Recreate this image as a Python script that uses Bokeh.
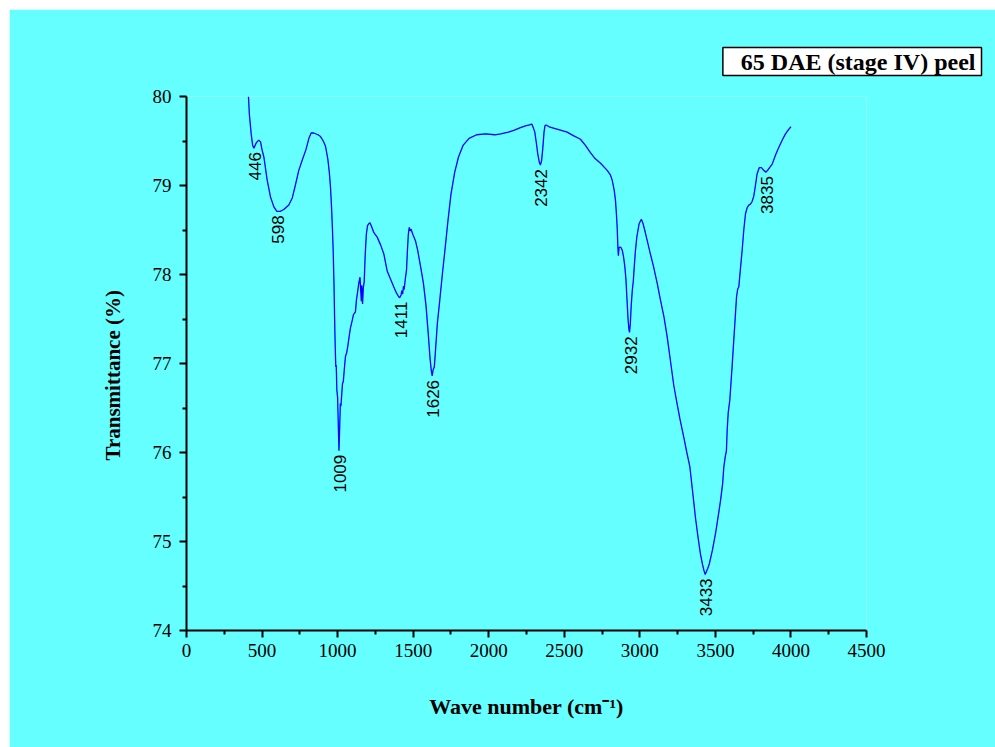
import math
from bokeh.plotting import figure
from bokeh.models import ColumnDataSource, Title, Range1d, FixedTicker
from bokeh.core.properties import value
from bokeh.embed import file_html
from bokeh.resources import INLINE

# FTIR spectrum: wave number (cm-1) vs transmittance (%)
wavenumber = [
    410, 416, 428, 438, 446, 462, 478, 490, 500, 512, 534, 556, 578, 598, 620,
    644, 677, 700, 720, 743, 765, 790, 810, 825, 842, 870, 887, 905, 920, 935,
    945, 953, 960, 966, 971, 976, 980, 984, 988, 991, 995, 1000, 1004, 1009,
    1014, 1018, 1022, 1026, 1032, 1038, 1045, 1052, 1060, 1068, 1076, 1085,
    1096, 1105, 1118, 1125, 1132, 1140, 1148, 1152, 1157, 1160, 1165, 1170,
    1176, 1182, 1190, 1198, 1206, 1214, 1222, 1240, 1262, 1285, 1306, 1328,
    1350, 1372, 1390, 1404, 1411, 1420, 1425, 1430, 1436, 1440, 1448, 1456,
    1462, 1468, 1474, 1480, 1486, 1498, 1515, 1530, 1550, 1568, 1585, 1600,
    1612, 1620, 1626, 1632, 1640, 1648, 1660, 1676, 1693, 1710, 1730, 1750,
    1775, 1800, 1830, 1870, 1920, 1980, 2040, 2080, 2130, 2166, 2210, 2243,
    2270, 2285, 2295, 2305, 2315, 2325, 2335, 2342, 2350, 2358, 2366, 2372,
    2380, 2400, 2440, 2480, 2519, 2560, 2607, 2640, 2673, 2700, 2740, 2784,
    2805, 2817, 2830, 2839, 2845, 2850, 2855, 2858, 2862, 2868, 2876, 2884,
    2892, 2900, 2908, 2915, 2922, 2928, 2932, 2937, 2943, 2950, 2957, 2962,
    2970, 2980, 2995, 3010, 3020, 3035, 3049, 3070, 3092, 3115, 3137, 3160,
    3181, 3205, 3225, 3243, 3265, 3291, 3311, 3331, 3350, 3368, 3385, 3401,
    3415, 3425, 3433, 3440, 3450, 3460, 3480, 3501, 3520, 3534, 3548, 3556,
    3566, 3573, 3578, 3585, 3595, 3610, 3625, 3640, 3648, 3655, 3665, 3677,
    3688, 3699, 3710, 3721, 3732, 3743, 3754, 3765, 3776, 3790, 3805, 3820,
    3835, 3850, 3876, 3900, 3920, 3945, 3964, 3985, 4000,
]
transmittance = [
    80.00, 79.80, 79.58, 79.45, 79.42, 79.48, 79.51, 79.49, 79.40, 79.32, 79.06,
    78.87, 78.76, 78.71, 78.71, 78.73, 78.78, 78.86, 79.00, 79.17, 79.28, 79.40,
    79.53, 79.59, 79.59, 79.57, 79.55, 79.50, 79.44, 79.30, 79.15, 78.98, 78.75,
    78.50, 78.25, 77.90, 77.52, 77.20, 76.96, 76.98, 76.70, 76.62, 76.35, 76.02,
    76.30, 76.55, 76.52, 76.62, 76.77, 76.80, 76.95, 77.08, 77.12, 77.20, 77.30,
    77.40, 77.48, 77.55, 77.58, 77.72, 77.80, 77.90, 77.97, 77.85, 77.70, 77.88,
    77.67, 77.85, 77.92, 78.20, 78.45, 78.55, 78.57, 78.58, 78.55, 78.47, 78.42,
    78.33, 78.23, 78.04, 77.95, 77.86, 77.79, 77.75, 77.74, 77.77, 77.82, 77.78,
    77.87, 77.83, 77.95, 78.05, 78.27, 78.45, 78.53, 78.49, 78.51, 78.45, 78.38,
    78.27, 78.08, 77.90, 77.65, 77.33, 77.05, 76.92, 76.86, 76.93, 76.96, 77.15,
    77.45, 77.71, 78.00, 78.27, 78.60, 78.90, 79.15, 79.32, 79.45, 79.53, 79.57,
    79.58, 79.57, 79.58, 79.60, 79.62, 79.65, 79.67, 79.68, 79.69, 79.65, 79.60,
    79.48, 79.35, 79.26, 79.23, 79.28, 79.42, 79.60, 79.67, 79.68, 79.66, 79.64,
    79.62, 79.60, 79.56, 79.52, 79.45, 79.37, 79.31, 79.25, 79.17, 79.12, 79.06,
    78.95, 78.83, 78.68, 78.53, 78.30, 78.21, 78.30, 78.31, 78.30, 78.27, 78.20,
    78.10, 77.95, 77.72, 77.50, 77.38, 77.35, 77.45, 77.65, 77.82, 77.93, 78.06,
    78.25, 78.42, 78.57, 78.62, 78.58, 78.48, 78.38, 78.23, 78.08, 77.90, 77.71,
    77.52, 77.30, 77.00, 76.75, 76.58, 76.38, 76.17, 76.00, 75.84, 75.55, 75.27,
    75.05, 74.86, 74.74, 74.67, 74.63, 74.66, 74.70, 74.75, 74.90, 75.09, 75.30,
    75.46, 75.65, 75.84, 75.96, 76.02, 76.25, 76.45, 76.58, 76.95, 77.35, 77.75,
    77.84, 77.86, 78.05, 78.27, 78.50, 78.68, 78.75, 78.78, 78.79, 78.82, 78.88,
    79.00, 79.13, 79.20, 79.20, 79.17, 79.15, 79.18, 79.24, 79.35, 79.43, 79.52,
    79.58, 79.63, 79.66,
]

# Annotated absorption bands and the transmittance at each band
peak_wavenumbers = [446, 598, 1009, 1411, 1626, 2342, 2932, 3433, 3835]
peak_transmittance = [79.42, 78.71, 76.02, 77.74, 76.86, 79.23, 77.35, 74.63, 79.15]
peak_labels = [str(w) for w in peak_wavenumbers]

x_ticks = [0, 500, 1000, 1500, 2000, 2500, 3000, 3500, 4000, 4500]
y_ticks = [74, 75, 76, 77, 78, 79, 80]

title_text = "65 DAE (stage IV) peel"
x_title = "Wave number (cm\u207b\u00b9)"
y_title = "Transmittance (%)"

BG = "#66FFFF"
SERIF = "Liberation Serif"

p = figure(
    width=986, height=738,
    x_range=Range1d(0, 4500), y_range=Range1d(74, 80),
    output_backend="svg", toolbar_location=None,
    background_fill_color=BG, border_fill_color=BG,
    min_border_left=177, min_border_right=129,
    min_border_top=87, min_border_bottom=117,
)
p.margin = (9, 0, 0, 9)
p.outline_line_color = None
p.grid.visible = False

for ax in (p.xaxis[0], p.yaxis[0]):
    ax.axis_line_width = 2
    ax.axis_line_color = "black"
    ax.major_tick_line_width = 2
    ax.minor_tick_line_width = 2
    ax.major_tick_out = 7
    ax.major_tick_in = 0
    ax.minor_tick_out = 4
    ax.minor_tick_in = 0
    ax.major_label_text_font = SERIF
    ax.major_label_text_font_size = "19px"
    ax.major_label_text_color = "black"

p.xaxis[0].ticker = FixedTicker(ticks=x_ticks, minor_ticks=[250 + 500 * i for i in range(9)])
p.yaxis[0].ticker = FixedTicker(ticks=y_ticks, minor_ticks=[74.5 + i for i in range(6)])
p.xaxis[0].major_label_standoff = 6
p.yaxis[0].major_label_standoff = 8

# x-axis title
xa = p.xaxis[0]
xa.axis_label = x_title
xa.axis_label_text_font = SERIF
xa.axis_label_text_font_style = "bold"
xa.axis_label_text_font_size = "22px"
xa.axis_label_text_color = "black"
xa.axis_label_standoff = 34

# y-axis title, shifted along the axis
p.add_layout(Title(text=y_title, align="left", offset=170, standoff=49,
                   text_font=SERIF, text_font_style="bold", text_font_size="21px",
                   text_color="black"), "left")

# boxed sample title at the top right
p.title.text = title_text
p.title.align = "right"
p.title.offset = -115
p.title.standoff = 42
p.title.text_font = SERIF
p.title.text_font_style = "bold"
p.title.text_font_size = "24px"
p.title.text_color = "black"
p.title.background_fill_color = "white"
p.title.border_line_color = "black"
p.title.border_line_width = 1.5
p.title.padding = (18, 6, 1, 1)

src = ColumnDataSource(dict(x=wavenumber, y=transmittance))
p.line("x", "y", source=src, line_color="#0000FF", line_width=1.3)

lab_src = ColumnDataSource(dict(x=peak_wavenumbers, y=peak_transmittance, t=peak_labels))
p.text("x", "y", text="t", source=lab_src, angle=math.pi / 2,
       text_align="right", text_baseline="middle",
       x_offset=1, y_offset=4,
       text_font=value("Liberation Sans"), text_font_size="17px", text_color="black")

open("out.html", "w").write(file_html(p, INLINE))
